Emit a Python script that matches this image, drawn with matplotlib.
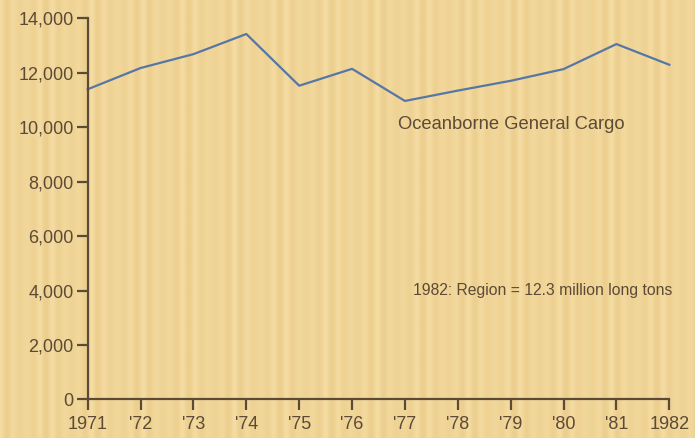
import numpy as np
import matplotlib.pyplot as plt
import matplotlib as mpl
from matplotlib.colors import LinearSegmentedColormap

# --- style ---
mpl.rcParams.update({
    'font.family': ['Liberation Sans', 'DejaVu Sans'],
    'font.size': 13,
})

brun = '#5c4a36'      # axes, ticks and text
bleu = '#5677a6'      # cargo line

# --- data (thousand long tons) ---
annees = [1971, 1972, 1973, 1974, 1975, 1976, 1977, 1978, 1979, 1980, 1981, 1982]
cargo = [11400, 12180, 12690, 13430, 11530, 12150, 10970, 11350, 11710, 12140, 13060, 12300]
etiquettes_x = ['1971', "'72", "'73", "'74", "'75", "'76", "'77", "'78", "'79", "'80", "'81", '1982']
ticks_y = [0, 2000, 4000, 6000, 8000, 10000, 12000, 14000]

fig = plt.figure(figsize=(6.95, 4.38), dpi=100)

# kraft-paper background with soft vertical stripes
fond = fig.add_axes([0, 0, 1, 1], zorder=-10)
x = np.arange(695)
bandes = 0.5 + 0.5 * np.cos(2 * np.pi * x / 13.0) * (0.6 + 0.4 * np.cos(2 * np.pi * x / 47.0))
papier = LinearSegmentedColormap.from_list('papier', ['#ecce8e', '#f5dca2'])
fond.imshow(bandes[np.newaxis, :], aspect='auto', cmap=papier, extent=[0, 1, 0, 1],
            interpolation='bilinear')
fond.set_axis_off()

ax = fig.add_axes([0.1262, 0.0879, 0.8368, 0.8699])
ax.patch.set_alpha(0)

ax.plot(annees, cargo, color=bleu, linewidth=1.6, clip_on=False)

ax.set_xlim(1971, 1982)
ax.set_ylim(0, 14000)
ax.set_xticks(annees)
ax.set_xticklabels(etiquettes_x)
ax.set_yticks(ticks_y)
ax.set_yticklabels([f'{v:,}' for v in ticks_y])

for cote in ['top', 'right']:
    ax.spines[cote].set_visible(False)
for cote in ['left', 'bottom']:
    ax.spines[cote].set_color(brun)
    ax.spines[cote].set_linewidth(1.6)
ax.tick_params(colors=brun, length=8, width=1.6, labelsize=13, pad=2)
ax.tick_params(axis='x', pad=4)

ax.text(1976.87, 10100, 'Oceanborne General Cargo', color=brun, fontsize=13.2, va='center')
ax.text(1982.05, 4000, '1982: Region = 12.3 million long tons', color=brun,
        fontsize=11.3, ha='right', va='center')

fig.savefig('out.png', dpi=100)
